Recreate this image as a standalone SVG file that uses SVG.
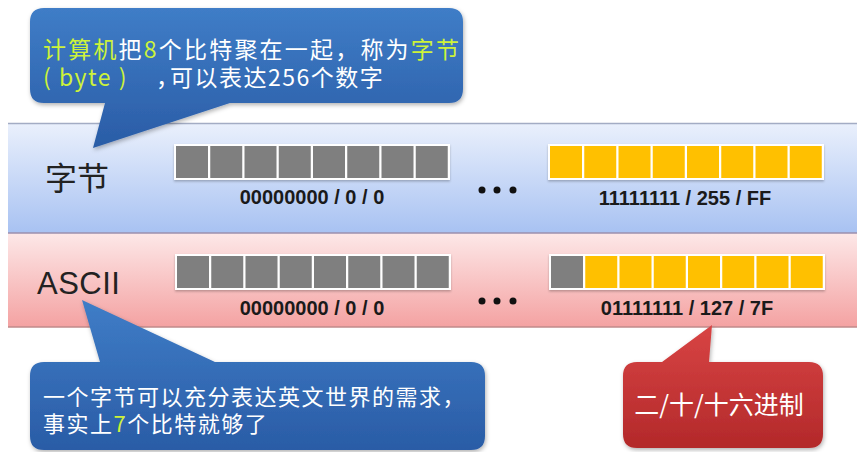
<svg xmlns="http://www.w3.org/2000/svg" width="859" height="452" viewBox="0 0 859 452">
  <style>
    .cjk { font-family: "Noto Sans CJK SC", "Noto Sans", sans-serif; }
    .lbl { font-family: "Liberation Sans", Arial, sans-serif; font-weight: bold; font-size: 20px; fill: #1a1a1a; text-anchor: middle; }
    .white { fill: #ffffff; }
    .hl { fill: #cdf23a; }
    .g { fill: #7f7f7f; }
    .y { fill: #ffc000; }
    .bk { fill: #ffffff; }
    .dot { fill: #111111; }
  </style>
  <defs>
    <linearGradient id="blueBand" x1="0" y1="0" x2="0" y2="1">
      <stop offset="0" stop-color="#eaf0fc"/>
      <stop offset="1" stop-color="#a8c2f2"/>
    </linearGradient>
    <linearGradient id="pinkBand" x1="0" y1="0" x2="0" y2="1">
      <stop offset="0" stop-color="#fde8e8"/>
      <stop offset="1" stop-color="#f4a2a2"/>
    </linearGradient>
    <linearGradient id="blueCall" x1="0" y1="0" x2="0" y2="1">
      <stop offset="0" stop-color="#3f7dc7"/>
      <stop offset="1" stop-color="#2a5ca6"/>
    </linearGradient>
    <linearGradient id="redCall" x1="0" y1="0" x2="0" y2="1">
      <stop offset="0" stop-color="#d84444"/>
      <stop offset="1" stop-color="#b3292a"/>
    </linearGradient>
    <filter id="sh" x="-10%" y="-10%" width="120%" height="130%">
      <feDropShadow dx="1" dy="2" stdDeviation="2" flood-color="#000" flood-opacity="0.3"/>
    </filter>
    <filter id="shs" x="-5%" y="-20%" width="110%" height="140%">
      <feDropShadow dx="0" dy="1.5" stdDeviation="1" flood-color="#000" flood-opacity="0.25"/>
    </filter>
  </defs>

  <rect width="859" height="452" fill="#ffffff"/>

  <g id="band-byte">
    <rect x="8" y="123" width="849" height="110" fill="url(#blueBand)"/>
    <line x1="8" y1="123.5" x2="857" y2="123.5" stroke="#a3acc4" stroke-width="1.5"/>
    <text x="45" y="190" class="cjk" font-size="32" fill="#222">字节</text>
    <g filter="url(#shs)">
      <rect x="174" y="144" width="276" height="36" class="bk"/>
      <rect x="176" y="146" width="32" height="32" class="g"/>
      <rect x="210.25" y="146" width="32" height="32" class="g"/>
      <rect x="244.5" y="146" width="32" height="32" class="g"/>
      <rect x="278.75" y="146" width="32" height="32" class="g"/>
      <rect x="313" y="146" width="32" height="32" class="g"/>
      <rect x="347.25" y="146" width="32" height="32" class="g"/>
      <rect x="381.5" y="146" width="32" height="32" class="g"/>
      <rect x="415.75" y="146" width="32" height="32" class="g"/>
    </g>
    <text x="312" y="204" class="lbl">00000000 / 0 / 0</text>
    <circle cx="482" cy="190" r="3.5" class="dot"/>
    <circle cx="497" cy="190" r="3.5" class="dot"/>
    <circle cx="513" cy="190" r="3.5" class="dot"/>
    <g filter="url(#shs)">
      <rect x="548" y="144" width="276" height="36" class="bk"/>
      <rect x="550" y="146" width="32" height="32" class="y"/>
      <rect x="584.25" y="146" width="32" height="32" class="y"/>
      <rect x="618.5" y="146" width="32" height="32" class="y"/>
      <rect x="652.75" y="146" width="32" height="32" class="y"/>
      <rect x="687" y="146" width="32" height="32" class="y"/>
      <rect x="721.25" y="146" width="32" height="32" class="y"/>
      <rect x="755.5" y="146" width="32" height="32" class="y"/>
      <rect x="789.75" y="146" width="32" height="32" class="y"/>
    </g>
    <text x="685" y="205" class="lbl">11111111 / 255 / FF</text>
  </g>

  <g id="band-ascii">
    <rect x="8" y="233" width="849" height="94" fill="url(#pinkBand)"/>
    <line x1="8" y1="233" x2="857" y2="233" stroke="#9b8fae" stroke-width="1.5"/>
    <line x1="8" y1="327" x2="857" y2="327" stroke="#c08a8a" stroke-width="1.5"/>
    <text x="37" y="294" font-family="Liberation Sans, Arial, sans-serif" font-size="31" fill="#222" letter-spacing="0.5">ASCII</text>
    <g filter="url(#shs)">
      <rect x="175" y="254" width="276" height="36" class="bk"/>
      <rect x="177" y="256" width="32" height="32" class="g"/>
      <rect x="211.25" y="256" width="32" height="32" class="g"/>
      <rect x="245.5" y="256" width="32" height="32" class="g"/>
      <rect x="279.75" y="256" width="32" height="32" class="g"/>
      <rect x="314" y="256" width="32" height="32" class="g"/>
      <rect x="348.25" y="256" width="32" height="32" class="g"/>
      <rect x="382.5" y="256" width="32" height="32" class="g"/>
      <rect x="416.75" y="256" width="32" height="32" class="g"/>
    </g>
    <text x="312" y="315" class="lbl">00000000 / 0 / 0</text>
    <circle cx="482" cy="301" r="3.5" class="dot"/>
    <circle cx="497" cy="301" r="3.5" class="dot"/>
    <circle cx="513" cy="301" r="3.5" class="dot"/>
    <g filter="url(#shs)">
      <rect x="549" y="254" width="276" height="36" class="bk"/>
      <rect x="551" y="256" width="32" height="32" class="g"/>
      <rect x="585.25" y="256" width="32" height="32" class="y"/>
      <rect x="619.5" y="256" width="32" height="32" class="y"/>
      <rect x="653.75" y="256" width="32" height="32" class="y"/>
      <rect x="688" y="256" width="32" height="32" class="y"/>
      <rect x="722.25" y="256" width="32" height="32" class="y"/>
      <rect x="756.5" y="256" width="32" height="32" class="y"/>
      <rect x="790.75" y="256" width="32" height="32" class="y"/>
    </g>
    <text x="687" y="315" class="lbl">01111111 / 127 / 7F</text>
  </g>

  <g id="callout-byte">
    <path d="M44,8 H449 Q463,8 463,22 V89 Q463,103 449,103 H230 L93,148 L105,103 H44 Q30,103 30,89 V22 Q30,8 44,8 Z" fill="url(#blueCall)" filter="url(#sh)"/>
    <text x="43" y="58" class="cjk white" font-size="23" letter-spacing="2.2"><tspan class="hl">计算机</tspan>把<tspan class="hl">8</tspan>个比特聚在一起，称为<tspan class="hl">字节</tspan></text>
    <text y="86" class="cjk white" font-size="23" letter-spacing="1.5"><tspan x="43" class="hl">( byte )</tspan><tspan x="156">，</tspan><tspan x="170">可以表达256个数字</tspan></text>
  </g>

  <g id="callout-ascii">
    <path d="M44,362 H100 L82,300 L215,362 H471 Q485,362 485,376 V436 Q485,450 471,450 H44 Q30,450 30,436 V376 Q30,362 44,362 Z" fill="url(#blueCall)" filter="url(#sh)"/>
    <text x="43" y="405" class="cjk white" font-size="22" letter-spacing="1.5">一个字节可以充分表达英文世界的需求，</text>
    <text x="43" y="432" class="cjk white" font-size="22" letter-spacing="1.5">事实上<tspan class="hl">7</tspan>个比特就够了</text>
  </g>

  <g id="callout-radix">
    <path d="M637,362 H662 L712,325 L709,362 H809 Q823,362 823,376 V434 Q823,448 809,448 H637 Q623,448 623,434 V376 Q623,362 637,362 Z" fill="url(#redCall)" filter="url(#sh)"/>
    <text x="719" y="414" class="cjk white" font-size="25" text-anchor="middle">二/十/十六进制</text>
  </g>
</svg>
